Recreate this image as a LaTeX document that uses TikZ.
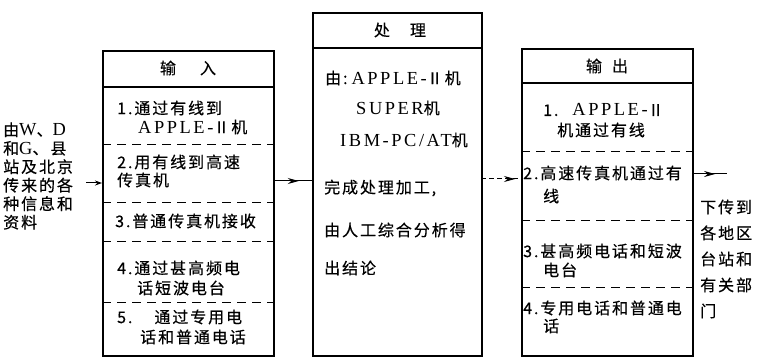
\documentclass[tikz,border=0pt]{standalone}
\usepackage{fontspec}
\setmainfont{Liberation Serif}
\newfontfamily\cjk[LetterSpace=12,FakeBold=0.4]{Noto Sans CJK SC}
\newfontfamily\lat[LetterSpace=14,Scale=1.15]{Liberation Serif}
\usetikzlibrary{arrows.meta,decorations.markings}
\tikzset{
  boxst/.style={draw, line width=1.6pt, inner sep=0pt, anchor=north west},
  hdline/.style={line width=1.2pt},
  sepline/.style={line width=1pt, dash pattern=on 9pt off 6pt},
  txt/.style={anchor=west, inner sep=0pt, font=\cjk\fontsize{16}{18}\selectfont},
  hdtxt/.style={inner sep=0pt, font=\cjk\fontsize{16}{18}\selectfont},
  midarr/.style={decoration={markings, mark=at position #1 with {\arrow{Stealth[length=11pt,width=6pt]}}}, postaction={decorate}},
  conn/.style={line width=1pt}
}
\begin{document}
\begin{tikzpicture}[x=1pt,y=-1pt]
\useasboundingbox (0,0) rectangle (758,358);
% boxes
\node[boxst, minimum width=171pt, minimum height=305pt] (inb) at (102,50) {};
\node[boxst, minimum width=169pt, minimum height=343pt] (prb) at (312,12) {};
\node[boxst, minimum width=171pt, minimum height=307pt] (outb) at (521,48) {};
% header lines
\draw[hdline] (102,87) -- (273,87);
\draw[hdline] (312,48) -- (481,48);
\draw[hdline] (521,83) -- (692,83);
% separators
\foreach \yy in {145,203,242,302} \draw[sepline] (102,\yy) -- (273,\yy);
\foreach \yy in {152,221,288} \draw[sepline] (521,\yy) -- (692,\yy);
% headers
\node[hdtxt] (h1) at (188,68) {输\hspace{24pt}入};
\node[hdtxt] (h2) at (400,30) {处\hspace{20pt}理};
\node[hdtxt] (h3) at (607,66) {输\hspace{10pt}出};
% input items
\node[txt] (i1a) at (117,108) {1.通过有线到};
\node[txt] (i1b) at (138,127) {{\lat APPLE-}Ⅱ机};
\node[txt] (i2a) at (117,162) {2.用有线到高速};
\node[txt] (i2b) at (117,180) {传真机};
\node[txt] (i3) at (115,221) {3.普通传真机接收};
\node[txt] (i4a) at (117,268) {4.通过甚高频电};
\node[txt] (i4b) at (137,288) {话短波电台};
\node[txt] (i5a) at (117,317) {5.\hspace{22pt}通过专用电};
\node[txt] (i5b) at (140,337) {话和普通电话};
% processing
\node[txt] (p1) at (325,78) {由:\hspace{4pt}{\lat APPLE-}Ⅱ机};
\node[txt] (p2) at (356,108) {{\lat SUPER}机};
\node[txt] (p3) at (340,140) {{\lat IBM-PC/AT}机};
\node[txt] (p4) at (324,188) {完成处理加工,};
\node[txt] (p5) at (324,230) {由人工综合分析得};
\node[txt] (p6) at (324,268) {出结论};
% output
\node[txt] (o1a) at (543,110) {1.\hspace{14pt}{\lat APPLE-}Ⅱ};
\node[txt] (o1b) at (557,130) {机通过有线};
\node[txt] (o2a) at (523,173) {2.高速传真机通过有};
\node[txt] (o2b) at (543,196) {线};
\node[txt] (o3a) at (523,251) {3.甚高频电话和短波};
\node[txt] (o3b) at (543,270) {电台};
\node[txt] (o4a) at (523,308) {4.专用电话和普通电};
\node[txt] (o4b) at (543,326) {话};
% side texts
\node[txt, align=left, font=\cjk\fontsize{16}{18.5}\selectfont] (src) at (3,176) {由{\lat W}、{\lat D}\\和{\lat G}、县\\站及北京\\传来的各\\种信息和\\资料};
\node[txt, align=left, font=\cjk\fontsize{16}{26}\selectfont] (dst) at (700,259) {下传到\\各地区\\台站和\\有关部\\门};
% connectors
\coordinate (c0) at (86,183);
\coordinate (c1) at (273,181);
\coordinate (c2) at (481,179);
\coordinate (c3) at (692,174);
\coordinate (c4) at (727,174);
\draw[conn, -{Stealth[length=7pt,width=5pt]}] (c0) -- (c0 -| inb.west);
\draw[conn, midarr=0.66] (c1) -- (c1 -| prb.west);
\draw[conn, dash pattern=on 5pt off 3pt, midarr=0.85] (c2) -- (c2 -| outb.west);
\draw[conn, midarr=0.66] (c3) -- (c4);
\end{tikzpicture}
\end{document}
